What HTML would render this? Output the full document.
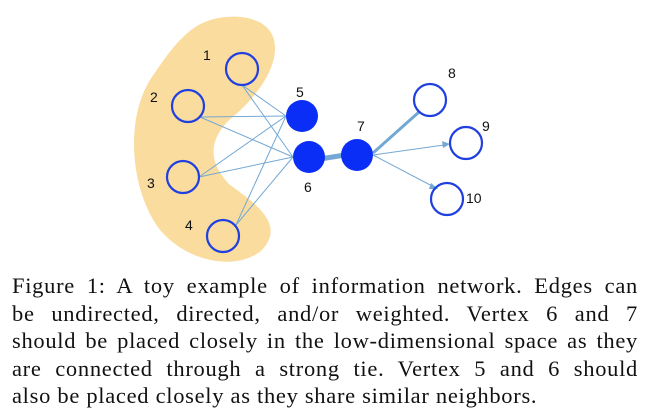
<!DOCTYPE html>
<html><head><style>
html,body{margin:0;padding:0;background:#fff;width:652px;height:414px;overflow:hidden}
.cap{position:absolute;left:12px;width:626px;font-family:"Liberation Serif",serif;font-size:22.5px;letter-spacing:0.7px;color:#111}
.cap div{height:27.5px;line-height:27.5px;text-align:justify;text-align-last:justify;white-space:nowrap}
.cap div.last{text-align-last:left}
</style></head><body>
<svg width="652" height="270" style="position:absolute;left:0;top:0" font-family="Liberation Sans, sans-serif" font-size="14">
<path d="M205,22 C230,12 268,15 274,40 C280,65 258,95 235,115 C210,135 205,160 230,185 C258,205 285,225 262,250 C240,270 190,265 160,230 C130,190 125,120 150,80 C170,50 185,30 205,22 Z" fill="#f9dc9e"/>
<g stroke="#74a8d4" stroke-width="1" fill="none">
<line x1="242" y1="85" x2="286" y2="116"/><line x1="242" y1="85" x2="293" y2="157"/>
<line x1="200" y1="117" x2="286" y2="116"/><line x1="200" y1="117" x2="293" y2="157"/>
<line x1="199" y1="177" x2="286" y2="116"/><line x1="199" y1="177" x2="293" y2="157"/>
<line x1="236" y1="225" x2="286" y2="116"/><line x1="236" y1="225" x2="293" y2="157"/>
<line x1="373" y1="155" x2="444" y2="145"/><line x1="373" y1="155" x2="434" y2="187"/>
</g>
<line x1="320" y1="159" x2="345" y2="155" stroke="#74a8d4" stroke-width="5"/>
<line x1="373" y1="153" x2="419" y2="112" stroke="#74a8d4" stroke-width="3"/>
<polygon points="450,144 442,141 443,148" fill="#74a8d4"/>
<polygon points="438,189 431,183 429,189" fill="#74a8d4"/>
<g fill="none" stroke="#1f3fe0" stroke-width="2.2">
<circle cx="242" cy="69" r="16"/><circle cx="188" cy="106" r="16"/><circle cx="183" cy="177" r="16"/><circle cx="223" cy="236" r="16"/>
<circle cx="430" cy="100" r="16"/><circle cx="466" cy="143" r="16"/><circle cx="447" cy="199" r="16"/>
</g>
<g fill="#0a2ef5"><circle cx="302" cy="116" r="16"/><circle cx="309" cy="157" r="16"/><circle cx="357" cy="155" r="16"/></g>
<g fill="#111">
<text x="203" y="60">1</text><text x="150" y="102">2</text><text x="147" y="188">3</text><text x="185" y="230">4</text>
<text x="296" y="97">5</text><text x="304" y="192">6</text><text x="357" y="131">7</text>
<text x="448" y="78">8</text><text x="482" y="131">9</text><text x="466" y="203">10</text>
</g>
</svg>
<div class="cap" style="top:272px">
<div>Figure 1: A toy example of information network. Edges can</div>
<div>be undirected, directed, and/or weighted. Vertex 6 and 7</div>
<div>should be placed closely in the low-dimensional space as they</div>
<div>are connected through a strong tie. Vertex 5 and 6 should</div>
<div class="last">also be placed closely as they share similar neighbors.</div>
</div>
</body></html>
